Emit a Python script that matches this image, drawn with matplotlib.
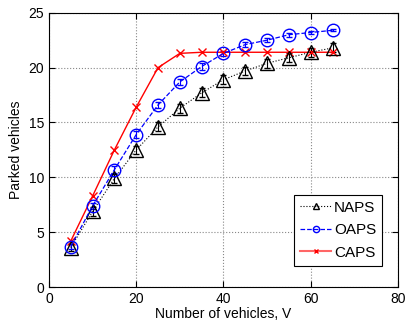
import numpy as np
import matplotlib
matplotlib.use("Agg")
import matplotlib.pyplot as plt
from matplotlib.lines import Line2D

plt.rcParams['font.family'] = ['Liberation Sans', 'DejaVu Sans']

vehicles = [5, 10, 15, 20, 25, 30, 35, 40, 45, 50, 55, 60, 65]
naps = [3.6, 6.9, 9.9, 12.5, 14.6, 16.3, 17.7, 18.9, 19.7, 20.4, 20.9, 21.4, 21.8]
oaps = [3.7, 7.4, 10.7, 13.9, 16.6, 18.7, 20.1, 21.3, 22.1, 22.5, 23.0, 23.2, 23.4]
caps = [4.2, 8.3, 12.5, 16.4, 20.0, 21.3, 21.4, 21.4, 21.4, 21.4, 21.4, 21.4, 21.4]
naps_err = [0.3, 0.4, 0.4, 0.4, 0.4, 0.4, 0.4, 0.4, 0.4, 0.4, 0.4, 0.4, 0.4]
oaps_err = [0.2, 0.3, 0.3, 0.3, 0.3, 0.3, 0.3, 0.2, 0.2, 0.2, 0.2, 0.1, 0.1]

fig = plt.figure(figsize=(4.08, 3.27), dpi=100)
ax = fig.add_axes([0.12, 0.122, 0.8555, 0.839])

ax.errorbar(vehicles, naps, yerr=naps_err, color='black', ls=':', lw=0.8,
            marker='^', ms=10.5, mfc='none', mew=1.0, capsize=2, elinewidth=0.8)
ax.errorbar(vehicles, oaps, yerr=oaps_err, color='blue', ls='--', lw=0.9,
            marker='o', ms=9, mfc='none', mew=1.0, capsize=2, elinewidth=0.8)
ax.plot(vehicles, caps, color='red', ls='-', lw=1.0, marker='x', ms=6, mew=1.0)

ax.set_xlim(0, 80)
ax.set_ylim(0, 25)
ax.set_xticks([0, 20, 40, 60, 80])
ax.set_yticks([0, 5, 10, 15, 20, 25])
ax.grid(True, ls=':', color='#888888', lw=0.8)
ax.tick_params(direction='in', top=True, right=True, labelsize=10, length=4)
for s in ax.spines.values():
    s.set_linewidth(0.8)
ax.set_xlabel('Number of vehicles, V', fontsize=10, labelpad=1)
ax.set_ylabel('Parked vehicles', fontsize=10, labelpad=4)

handles = [
    Line2D([], [], color='black', ls=':', lw=0.8, marker='^', ms=5, mfc='none', mew=1.0),
    Line2D([], [], color='blue', ls='--', lw=0.9, marker='o', ms=4.5, mfc='none', mew=1.0),
    Line2D([], [], color='#ff6666', ls='-', lw=1.5, marker='x', ms=3, mew=1.0, mec='red'),
]
leg = ax.legend(handles, ['NAPS', 'OAPS', 'CAPS'], loc='lower right',
                bbox_to_anchor=(0.955, 0.078), fontsize=11,
                fancybox=False, edgecolor='black',
                framealpha=1, handlelength=2.0, handletextpad=0.2,
                borderpad=0.4, labelspacing=0.55, borderaxespad=0)
leg.get_frame().set_linewidth(0.8)

plt.savefig("out.png", dpi=100)
